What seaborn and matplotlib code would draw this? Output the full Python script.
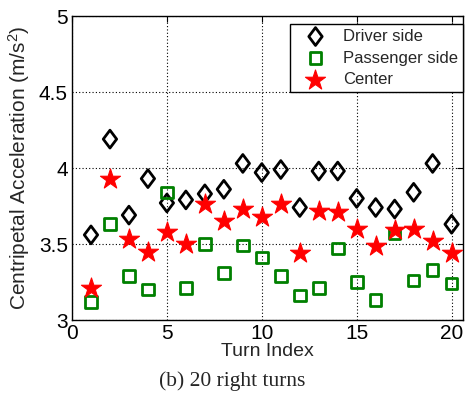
import numpy as np
import pandas as pd
import matplotlib
matplotlib.use("Agg")
import matplotlib.pyplot as plt
import seaborn as sns
from matplotlib.path import Path

turn_index = list(range(1, 21))
driver_side = [3.56, 4.19, 3.69, 3.93, 3.77, 3.79, 3.83, 3.86, 4.03, 3.97,
               3.99, 3.74, 3.98, 3.98, 3.80, 3.74, 3.73, 3.84, 4.03, 3.63]
passenger_side = [3.12, 3.63, 3.29, 3.20, 3.84, 3.21, 3.50, 3.31, 3.49, 3.41,
                  3.29, 3.16, 3.21, 3.47, 3.25, 3.13, 3.57, 3.26, 3.33, 3.24]
center = [3.21, 3.93, 3.53, 3.45, 3.58, 3.50, 3.76, 3.65, 3.73, 3.68,
          3.76, 3.44, 3.72, 3.71, 3.60, 3.49, 3.59, 3.60, 3.52, 3.44]
series_names = ["Driver side", "Passenger side", "Center"]
x_ticks = [0, 5, 10, 15, 20]
y_ticks = [3, 3.5, 4, 4.5, 5]

sns.set_style("white")
plt.rcParams["font.family"] = ["Liberation Sans", "DejaVu Sans"]
plt.rcParams["mathtext.fontset"] = "custom"
plt.rcParams["mathtext.rm"] = "Liberation Sans"
plt.rcParams["mathtext.it"] = "Liberation Sans"

fig = plt.figure(figsize=(4.65, 4.04), dpi=100)
ax = fig.add_axes([72/465, 1-320/404, (463-72)/465, 304/404])

diamond = Path([(0, 1), (0.75, 0), (0, -1), (-0.75, 0), (0, 1)],
               [Path.MOVETO, Path.LINETO, Path.LINETO, Path.LINETO, Path.CLOSEPOLY])

df_d = pd.DataFrame({"x": turn_index, "y": driver_side})
df_p = pd.DataFrame({"x": turn_index, "y": passenger_side})
df_c = pd.DataFrame({"x": turn_index, "y": center})

sns.scatterplot(data=df_d, x="x", y="y", ax=ax, marker=diamond, s=165,
                facecolors="none", edgecolor="black", linewidth=2.0,
                label=series_names[0], zorder=3)
sns.scatterplot(data=df_p, x="x", y="y", ax=ax, marker="s", s=70,
                facecolors="none", edgecolor="#008000", linewidth=2.0,
                label=series_names[1], zorder=3)
sns.scatterplot(data=df_c, x="x", y="y", ax=ax, marker="*", s=230,
                facecolors="red", edgecolor="red", linewidth=0.8,
                label=series_names[2], zorder=3)

ax.set_xlim(0, 20.6)
ax.set_ylim(3, 5)
ax.set_xticks(x_ticks)
ax.set_yticks(y_ticks)
ax.set_yticklabels(["3", "3.5", "4", "4.5", "5"])
ax.grid(True, color="black", linestyle=(0, (1, 2)), linewidth=0.8)
ax.tick_params(direction="in", length=4, labelsize=15, top=True, right=True,
               width=0.8, colors="black", pad=3)
for sp in ax.spines.values():
    sp.set_color("black")
    sp.set_linewidth(1.0)
ax.set_xlabel("Turn Index", fontsize=14, labelpad=0)
ax.set_ylabel("Centripetal Acceleration (m/s$^2$)", fontsize=15, labelpad=5)

leg = ax.legend(loc="upper right", bbox_to_anchor=(1.0, 0.974), borderaxespad=0,
                fontsize=12, frameon=True, fancybox=False, edgecolor="black",
                framealpha=1, handletextpad=0.4, labelspacing=0.4, borderpad=0.3,
                handlelength=2.5)
leg.get_frame().set_linewidth(1.0)

fig.text(0.5, 1-381/404, "(b) 20 right turns", ha="center", va="center",
         fontsize=15.5, family=["Liberation Serif", "DejaVu Serif"])

fig.savefig("out.png", dpi=100)
